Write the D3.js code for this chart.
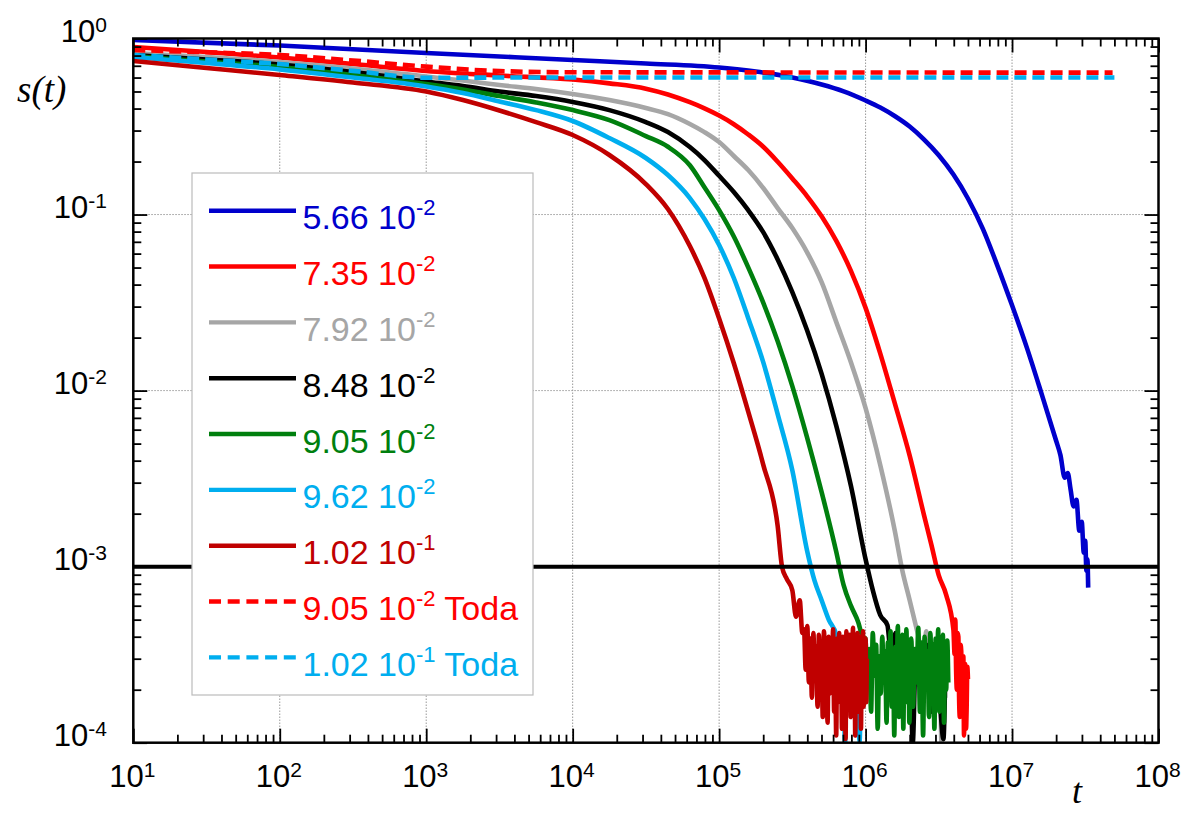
<!DOCTYPE html>
<meta charset="utf-8">
<style>
  body { margin: 0; background: #fff; }
  .curve { fill: none; stroke-width: 4.6; stroke-linejoin: round; }
  .grid line { stroke: #9a9a9a; stroke-width: 1; stroke-dasharray: 1.5,1.5; }
  .axis line { stroke: #000; stroke-width: 1.8; }
  .axis path { display: none; }
  .lbl { font-family: "Liberation Sans", Arial, sans-serif; }
</style>
<body></body>
<script src="https://d3js.org/d3.v7.min.js"></script>
<script>

// ---- data: [t, s(t)] ----
var s566 = [[10,0.98],[100,0.912],[1e3,0.827],[1e4,0.755],[3.16e4,0.721],[1e5,0.684],[1.78e5,0.649],[3.16e5,0.6],
  [5.01e5,0.548],[7.08e5,0.501],[1e6,0.4446],[1.26e6,0.4055],[1.58e6,0.363],[2e6,0.3162],[2.51e6,0.2667],
  [3.16e6,0.2173],[3.98e6,0.1687],[5.01e6,0.123],[6.31e6,0.0832],[7.94e6,0.0513],[1e7,0.0305],[1.26e7,0.0176],
  [1.58e7,0.00977],[2e7,0.00519],[2.14e7,0.0043],[2.29e7,0.0032],[2.4e7,0.0034],[2.51e7,0.00275],[2.63e7,0.0022],
  [2.75e7,0.0024],[2.88e7,0.0016],[2.99e7,0.0018],[3.09e7,0.0012],[3.16e7,0.0014],[3.22e7,0.00095],[3.27e7,0.0011],
  [3.31e7,0.00076]];

var s735 = [[10,0.895],[31.6,0.838],[100,0.78],[316,0.716],[1e3,0.654],[3.16e3,0.616],[1e4,0.585],[1.78e4,0.556],
  [3.16e4,0.519],[4.47e4,0.481],[6.31e4,0.4345],[7.94e4,0.401],[1e5,0.365],[1.26e5,0.326],[1.58e5,0.285],
  [2e5,0.2427],[2.51e5,0.1995],[3.16e5,0.1603],[3.98e5,0.1274],[5.01e5,0.0977],[6.31e5,0.0708],[7.94e5,0.0479],
  [1e6,0.0295],[1.26e6,0.01622],[1.58e6,0.00851],[2e6,0.00427],[2.51e6,0.00195],[2.82e6,0.00132],[3.16e6,0.000891],
  [3.55e6,0.000692],[3.98e6,0.000437],
  [4.05e6,0.00032],[4.1e6,0.0005],[4.15e6,0.00026],[4.2e6,0.0002],[4.25e6,0.00042],[4.3e6,0.0004],[4.35e6,0.00018],
  [4.4e6,0.00014],[4.45e6,0.00036],[4.5e6,0.00033],[4.55e6,0.00015],[4.6e6,0.00022],[4.65e6,0.00031],[4.7e6,0.00011],
  [4.75e6,0.00025],[4.8e6,0.00028],[4.85e6,0.00012],[4.9e6,0.00016],[4.95e6,0.00027],[5e6,0.00023]];

var s792 = [[10,0.827],[31.6,0.785],[100,0.735],[316,0.675],[1e3,0.608],[1.78e3,0.577],[3.16e3,0.544],[5.62e3,0.517],
  [1e4,0.484],[1.78e4,0.447],[3.16e4,0.403],[4.47e4,0.372],[6.31e4,0.327],[7.94e4,0.294],[1e5,0.258],[1.26e5,0.215],
  [1.58e5,0.179],[2e5,0.1415],[2.51e5,0.1088],[3.16e5,0.0838],[3.98e5,0.0612],[5.01e5,0.0413],[6.31e5,0.0245],
  [7.94e5,0.0145],[1e6,0.00794],[1.26e6,0.00377],[1.58e6,0.00161],[1.78e6,0.000955],[2e6,0.000645],[2.24e6,0.000437],
  [2.3e6,0.0004],[2.45e6,0.00026],[2.6e6,0.00043],[2.75e6,0.0002],[2.9e6,0.00035],[3.05e6,0.00016],[3.2e6,0.0003],
  [3.3e6,0.0001],[3.4e6,0.00024],[3.5e6,0.00018]];

var s848 = [[10,0.806],[31.6,0.76],[100,0.712],[316,0.645],[1e3,0.57],[1.78e3,0.537],[3.16e3,0.5],[5.62e3,0.471],
  [1e4,0.436],[1.78e4,0.392],[3.16e4,0.335],[4.47e4,0.294],[6.31e4,0.2417],[7.94e4,0.204],[1e5,0.166],[1.26e5,0.1343],
  [1.58e5,0.1059],[2e5,0.0794],[2.51e5,0.0556],[3.16e5,0.0363],[3.98e5,0.0221],[5.01e5,0.01245],[6.31e5,0.00631],
  [7.94e5,0.00288],[1e6,0.0011],[1.12e6,0.000735],[1.26e6,0.00053],[1.41e6,0.000465],
  [1.5e6,0.0003],[1.6e6,0.00042],[1.7e6,0.00025],[1.8e6,0.00038],[1.9e6,0.00019],[2e6,0.00035],[2.1e6,0.0001],
  [2.2e6,0.00031],[2.4e6,0.0002],[2.6e6,0.00036],[2.8e6,0.00015],[3e6,0.0003],[3.2e6,0.00018],[3.4e6,0.000105],
  [3.5e6,0.00025]];

var s905 = [[10,0.795],[31.6,0.74],[100,0.689],[316,0.62],[1e3,0.551],[1.78e3,0.513],[3.16e3,0.471],[5.62e3,0.433],
  [1e4,0.392],[1.78e4,0.344],[3.16e4,0.279],[4.47e4,0.2427],[6.31e4,0.1905],[7.94e4,0.1429],[1e5,0.1059],[1.26e5,0.075],
  [1.58e5,0.0501],[2e5,0.0316],[2.51e5,0.01905],[3.16e5,0.0106],[3.98e5,0.00544],[5.01e5,0.00265],[6.31e5,0.00121],
  [7.08e5,0.000785],[7.94e5,0.0006],[8.91e5,0.000484],[9.55e5,0.0004],
  [1e6,0.00039],[1.03e6,0.00021],[1.06e6,0.00034],[1.09e6,0.00015],[1.12e6,0.00042],[1.15e6,0.00024],[1.18e6,0.00036],
  [1.21e6,0.00012],[1.24e6,0.00031],[1.27e6,0.00019],[1.3e6,0.0004],[1.33e6,0.00022],[1.36e6,0.00033],[1.39e6,0.00013],
  [1.42e6,0.00037],[1.45e6,0.0002],[1.48e6,0.00043],[1.51e6,0.00016],[1.54e6,0.0003],[1.57e6,0.00011],[1.6e6,0.00035],
  [1.63e6,0.00023],[1.66e6,0.00046],[1.69e6,0.00014],[1.72e6,0.00038],[1.75e6,0.00018],[1.78e6,0.00041],[1.81e6,0.00012],
  [1.84e6,0.00032],[1.87e6,0.00017],[1.9e6,0.00044],[1.93e6,0.00021],[1.96e6,0.00036],[1.99e6,0.00013],
  [2.05e6,0.00039],[2.11e6,0.00016],[2.17e6,0.00034],[2.23e6,0.00022],[2.29e6,0.00045],[2.35e6,0.00015],[2.41e6,0.00037],
  [2.47e6,0.00011],[2.53e6,0.0004],[2.59e6,0.0002],[2.65e6,0.00033],[2.71e6,0.00014],[2.77e6,0.00042],[2.83e6,0.00018],
  [2.89e6,0.00036],[2.95e6,0.00012],[3.01e6,0.00039],[3.07e6,0.00023],[3.13e6,0.00044],[3.19e6,0.00015],[3.25e6,0.00031],
  [3.31e6,0.00019],[3.37e6,0.00041],[3.43e6,0.00013],[3.49e6,0.00035],[3.55e6,0.0002],[3.61e6,0.00038],[3.67e6,0.00022]];

var s962 = [[10,0.785],[31.6,0.726],[100,0.667],[316,0.6],[1e3,0.534],[1.78e3,0.49],[3.16e3,0.439],[5.62e3,0.392],
  [1e4,0.34],[1.78e4,0.272],[3.16e4,0.2095],[4.47e4,0.1676],[6.31e4,0.1241],[7.94e4,0.0943],[1e5,0.0671],
  [1.26e5,0.0436],[1.58e5,0.0258],[2e5,0.0145],[2.51e5,0.00735],[3.16e5,0.00353],[3.98e5,0.00124],[4.47e5,0.000838],
  [5.01e5,0.000645],[5.62e5,0.000497],[6.31e5,0.000408],
  [6.5e5,0.00026],[6.8e5,0.00038],[7.1e5,0.00016],[7.25e5,0.0001],[7.4e5,0.00034],[7.7e5,0.0002],[8e5,0.00039],
  [8.3e5,0.00015],[8.6e5,0.0003],[8.9e5,0.00018],[9.1e5,0.000102],[9.4e5,0.00035],[9.7e5,0.00022],[1e6,0.00031]];

var s102 = [[10,0.745],[31.6,0.68],[100,0.62],[316,0.562],[1e3,0.5],[1.78e3,0.447],[3.16e3,0.39],[5.62e3,0.335],
  [1e4,0.283],[1.78e4,0.218],[3.16e4,0.149],[4.47e4,0.1075],[6.31e4,0.0662],[7.94e4,0.0437],[1e5,0.0257],
  [1.26e5,0.01429],[1.58e5,0.00759],[2e5,0.0038],[2.51e5,0.0017],[2.69e5,0.000994],[2.9e5,0.00085],
  [3.16e5,0.000735],[3.35e5,0.00052],[3.55e5,0.000645],[3.7e5,0.00042],
  [3.8e5,0.00044],[3.9e5,0.00026],[4e5,0.00046],[4.1e5,0.00022],[4.2e5,0.00039],[4.3e5,0.00018],[4.4e5,0.00042],
  [4.5e5,0.00024],[4.6e5,0.00035],[4.7e5,0.00016],[4.8e5,0.00041],[4.9e5,0.0002],[5e5,0.00037],[5.1e5,0.00014],
  [5.2e5,0.00043],[5.3e5,0.00023],[5.4e5,0.00032],[5.5e5,0.00013],[5.6e5,0.0004],[5.7e5,0.00019],[5.8e5,0.00036],
  [5.9e5,0.00025],[6e5,0.00044],[6.1e5,0.00015],[6.2e5,0.00033],[6.3e5,0.00011],[6.4e5,0.00039],[6.5e5,0.00021],
  [6.6e5,0.00042],[6.7e5,0.00017],[6.8e5,0.00034],[6.9e5,0.00012],[7e5,0.0004],[7.1e5,0.00022],[7.2e5,0.00036],
  [7.3e5,0.000105],[7.4e5,0.00043],[7.5e5,0.00018],[7.6e5,0.00031],[7.7e5,0.00024],[7.8e5,0.00041],[7.9e5,0.00014],
  [8e5,0.00038],[8.1e5,0.0002],[8.2e5,0.00045],[8.3e5,0.00016],[8.4e5,0.00035],[8.5e5,0.00011],[8.6e5,0.00039],
  [8.7e5,0.00023],[8.8e5,0.00042],[8.9e5,0.00015],[9e5,0.00034],[9.1e5,0.00019],[9.2e5,0.0004],[9.3e5,0.00012],
  [9.4e5,0.00037],[9.5e5,0.00021],[9.6e5,0.00043],[9.7e5,0.00016],[9.8e5,0.00033],[9.9e5,0.00024],[1e6,0.00039],
  [1.01e6,0.00017],[1.02e6,0.0003]];

var toda905 = [[10,0.86],[31.6,0.835],[100,0.806],[316,0.75],[1e3,0.692],[3.16e3,0.653],[1e4,0.643],[1e5,0.642],
  [1e6,0.641],[1e7,0.64],[4.86e7,0.64]];

var toda102 = [[10,0.806],[31.6,0.76],[100,0.716],[316,0.655],[1e3,0.598],[3.16e3,0.6],[1e5,0.6],[1e7,0.6],[5e7,0.6]];

var legendMant   = ["5.66", "7.35", "7.92", "8.48", "9.05", "9.62", "1.02", "9.05", "1.02"];
var legendExp    = ["-2", "-2", "-2", "-2", "-2", "-2", "-1", "-2", "-1"];
var legendSuffix = ["", "", "", "", "", "", "", "Toda", "Toda"];
var colors = ["#0000cc", "#ff0000", "#a6a6a6", "#000000", "#007f0e", "#00aeef", "#c00000", "#ff0000", "#00aeef"];
var dashed = [false, false, false, false, false, false, false, true, true];
var allData = [s566, s735, s792, s848, s905, s962, s102, toda905, toda102];

var xDecades = [1, 2, 3, 4, 5, 6, 7, 8];
var yDecades = [0, -1, -2, -3, -4];
var threshold = 1e-3;

// ---- layout ----
var W = 1185, H = 814;
var L = 133.3, R = 1158.5, T = 38.5, B = 742.7;

var svg = d3.select("body").append("svg")
    .attr("width", W).attr("height", H);

var x = d3.scaleLog().domain([10, 1e8]).range([L, R]);
var y = d3.scaleLog().domain([1e-4, 1]).range([B, T]);

var majorX = xDecades.map(function(p) { return Math.pow(10, p); });
var majorY = yDecades.map(function(p) { return Math.pow(10, p); });
var minorX = [], minorY = [];
for (var p = 1; p < 8; p++) for (var m = 2; m < 10; m++) minorX.push(m * Math.pow(10, p));
for (var p = -4; p < 0; p++) for (var m = 2; m < 10; m++) minorY.push(m * Math.pow(10, p));

svg.append("defs").append("clipPath").attr("id", "clip")
  .append("rect").attr("x", L).attr("y", T).attr("width", R - L).attr("height", B - T);

// grid
var grid = svg.append("g").attr("class", "grid");
grid.selectAll(".gx").data(majorX.slice(1, -1)).enter().append("line")
    .attr("x1", function(d) { return x(d); }).attr("x2", function(d) { return x(d); })
    .attr("y1", T).attr("y2", B);
grid.selectAll(".gy").data(majorY.slice(1, -1)).enter().append("line")
    .attr("y1", function(d) { return y(d); }).attr("y2", function(d) { return y(d); })
    .attr("x1", L).attr("x2", R);

// curves
var line = d3.line()
    .x(function(d) { return x(d[0]); })
    .y(function(d) { return y(d[1]); })
    .curve(d3.curveMonotoneX);

var plot = svg.append("g").attr("clip-path", "url(#clip)");
allData.forEach(function(data, i) {
  plot.append("path")
      .datum(data)
      .attr("class", "curve")
      .attr("stroke", colors[i])
      .attr("stroke-dasharray", dashed[i] ? "12,6" : null)
      .attr("d", line);
});

// the 10^-3 level
svg.append("line")
    .attr("x1", L).attr("x2", R)
    .attr("y1", y(threshold)).attr("y2", y(threshold))
    .attr("stroke", "#000").attr("stroke-width", 4);

// legend
var lg = svg.append("g");
lg.append("rect").attr("x", 192).attr("y", 173).attr("width", 341).attr("height", 522)
    .attr("fill", "#fff").attr("stroke", "#bbb").attr("stroke-width", 1.2);
legendMant.forEach(function(mant, i) {
  var ly = 210.7 + i * 55.83;
  lg.append("line").attr("x1", 209).attr("x2", 296).attr("y1", ly).attr("y2", ly)
      .attr("stroke", colors[i]).attr("stroke-width", 4.4)
      .attr("stroke-dasharray", dashed[i] ? "12,6.7" : null);
  var t = lg.append("text").attr("class", "lbl").attr("x", 302.5).attr("y", ly + 18.6)
      .attr("fill", colors[i]).style("font-size", "34px");
  t.append("tspan").text(mant + " 10");
  t.append("tspan").attr("dy", -14).style("font-size", "22px").text(legendExp[i]);
  if (legendSuffix[i]) t.append("tspan").attr("dy", 14).style("font-size", "34px").text(" " + legendSuffix[i]);
});

// axes (ticks point inwards on all four sides)
function ticks(axis, vals, size, tr) {
  svg.append("g").attr("class", "axis").attr("transform", tr)
     .call(axis.tickValues(vals).tickSizeInner(-size).tickSizeOuter(0).tickFormat(""));
}
ticks(d3.axisBottom(x), majorX, 14, "translate(0," + B + ")");
ticks(d3.axisBottom(x), minorX, 8, "translate(0," + B + ")");
ticks(d3.axisTop(x), majorX, 14, "translate(0," + T + ")");
ticks(d3.axisTop(x), minorX, 8, "translate(0," + T + ")");
ticks(d3.axisLeft(y), majorY, 14, "translate(" + L + ",0)");
ticks(d3.axisLeft(y), minorY, 8, "translate(" + L + ",0)");
ticks(d3.axisRight(y), majorY, 14, "translate(" + R + ",0)");
ticks(d3.axisRight(y), minorY, 8, "translate(" + R + ",0)");

svg.append("rect").attr("x", L).attr("y", T).attr("width", R - L).attr("height", B - T)
    .attr("fill", "none").attr("stroke", "#000").attr("stroke-width", 2.5);

// tick labels
xDecades.forEach(function(p) {
  var t = svg.append("text").attr("class", "lbl").attr("x", x(Math.pow(10, p)) - 1).attr("y", 787)
      .attr("text-anchor", "middle").style("font-size", "31px");
  t.append("tspan").text("10");
  t.append("tspan").attr("dy", -10).style("font-size", "21px").text(p);
});
yDecades.forEach(function(p) {
  var t = svg.append("text").attr("class", "lbl").attr("x", 107).attr("y", y(Math.pow(10, p)) + 3.5)
      .attr("text-anchor", "end").style("font-size", "31px");
  t.append("tspan").text("10");
  t.append("tspan").attr("dy", -10).style("font-size", "21px").text(p === 0 ? "0" : "-" + (-p));
});

// axis titles
svg.append("text").attr("x", 17).attr("y", 102)
    .style("font-family", "'Liberation Serif', 'Times New Roman', serif").style("font-style", "italic")
    .style("font-size", "37px").text("s(t)");
svg.append("text").attr("x", 1072).attr("y", 803)
    .style("font-family", "'Liberation Serif', 'Times New Roman', serif").style("font-style", "italic")
    .style("font-size", "36px").text("t");

</script>
